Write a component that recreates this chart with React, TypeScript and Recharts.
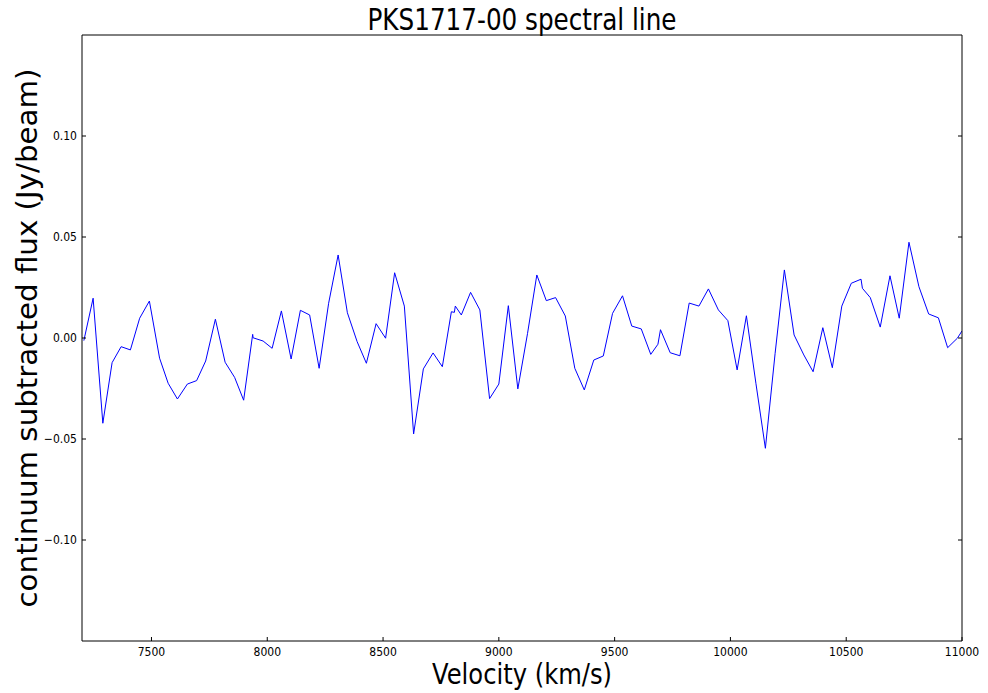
import { Line, LineChart, XAxis, YAxis } from 'recharts';

// Velocity (km/s) of each channel
const velocity = [
  7208, 7248, 7290, 7330, 7369, 7409, 7449, 7491, 7535, 7572,
  7612, 7655, 7695, 7734, 7776, 7818, 7859, 7898, 7937, 7939,
  7982, 8021, 8061, 8103, 8143, 8183, 8224, 8265, 8306, 8346,
  8388, 8428, 8470, 8511, 8550, 8592, 8632, 8674, 8716, 8756,
  8795, 8808, 8812, 8838, 8878, 8918, 8960, 9000, 9041, 9082,
  9124, 9164, 9205, 9245, 9287, 9328, 9369, 9410, 9451, 9491,
  9534, 9574, 9615, 9656, 9687, 9698, 9740, 9782, 9822, 9864,
  9905, 9948, 9989, 10029, 10069, 10110, 10151, 10193, 10233, 10275,
  10317, 10357, 10399, 10440, 10481, 10522, 10564, 10570, 10604, 10647,
  10689, 10729, 10771, 10814, 10856, 10898, 10938, 10980, 11000,
];

// continuum subtracted flux (Jy/beam)
const flux = [
  -0.0013, 0.0197, -0.0422, -0.0122, -0.0043, -0.0059, 0.0098, 0.0183, -0.01, -0.0224,
  -0.0302, -0.0228, -0.0211, -0.0114, 0.0093, -0.012, -0.0195, -0.0308, 0.0018, 0.0001,
  -0.0015, -0.0051, 0.0134, -0.0104, 0.0137, 0.0114, -0.015, 0.0172, 0.0411, 0.0125,
  -0.0018, -0.0125, 0.0071, -0.0001, 0.0323, 0.0158, -0.0475, -0.0153, -0.0074, -0.0142,
  0.013, 0.0127, 0.0158, 0.0114, 0.0226, 0.0139, -0.03, -0.0228, 0.016, -0.0252,
  0.0023, 0.0312, 0.0185, 0.02, 0.0109, -0.015, -0.0257, -0.0109, -0.0089, 0.0122,
  0.0209, 0.0059, 0.0045, -0.0081, -0.0031, 0.0041, -0.0073, -0.0088, 0.0173, 0.0158,
  0.0243, 0.0139, 0.0086, -0.0158, 0.011, -0.0224, -0.0546, -0.0076, 0.0337, 0.0015,
  -0.0084, -0.0167, 0.0051, -0.0147, 0.0158, 0.0271, 0.0291, 0.0246, 0.02, 0.0054,
  0.0308, 0.0098, 0.0474, 0.0254, 0.0119, 0.01, -0.0048, -0.0001, 0.0035,
];

const xTicks = [7500, 8000, 8500, 9000, 9500, 10000, 10500, 11000];
const yTicks = [-0.1, -0.05, 0, 0.05, 0.1];

const data = velocity.map((v, i) => ({ v, flux: flux[i] }));

const FONT = '"DejaVu Sans", sans-serif';
const W = 988;
const H = 693;

const fmtY = (n: number) => (n < 0 ? '\u2212' : '') + Math.abs(n).toFixed(2);

const XTick = ({ x, y, payload }: any) => (
  <g transform={`translate(${x},${y})`}>
    <text
      transform="scale(0.88,1)"
      textAnchor="middle"
      dy="0.71em"
      fontFamily={FONT}
      fontSize={12.3}
      fill="#000"
    >
      {payload.value}
    </text>
  </g>
);

const YTick = ({ x, y, payload }: any) => (
  <g transform={`translate(${x},${y})`}>
    <text
      transform="scale(0.88,1)"
      textAnchor="end"
      dy="0.355em"
      fontFamily={FONT}
      fontSize={12.3}
      fill="#000"
    >
      {fmtY(payload.value)}
    </text>
  </g>
);

const axisLine = { stroke: '#000', strokeWidth: 1 };
const tickLine = { stroke: '#000', strokeWidth: 1 };

export default function App() {
  return (
    <div style={{ position: 'absolute', left: 0, top: 0, width: W, height: H, background: '#fff' }}>
      <LineChart
        width={W}
        height={H}
        data={data}
        margin={{ top: 34, right: 25, left: 0, bottom: 0 }}
      >
        <XAxis
          dataKey="v"
          type="number"
          domain={[7200, 11000]}
          ticks={xTicks}
          allowDataOverflow
          height={52}
          axisLine={axisLine}
          tickLine={tickLine}
          tickSize={-4}
          tickMargin={10}
          tick={<XTick />}
        />
        <XAxis
          xAxisId="top"
          orientation="top"
          type="number"
          domain={[7200, 11000]}
          ticks={xTicks}
          allowDataOverflow
          height={1}
          axisLine={axisLine}
          tickLine={tickLine}
          tickSize={-4}
          tick={() => <g />}
        />
        <YAxis
          type="number"
          domain={[-0.15, 0.15]}
          ticks={yTicks}
          allowDataOverflow
          width={82}
          axisLine={axisLine}
          tickLine={tickLine}
          tickSize={-4}
          tickMargin={9}
          tick={<YTick />}
        />
        <YAxis
          yAxisId="right"
          orientation="right"
          type="number"
          domain={[-0.15, 0.15]}
          ticks={yTicks}
          allowDataOverflow
          width={1}
          axisLine={axisLine}
          tickLine={tickLine}
          tickSize={-4}
          tick={() => <g />}
        />
        <Line
          dataKey="flux"
          type="linear"
          stroke="#0000ff"
          strokeWidth={1}
          dot={false}
          activeDot={false}
          isAnimationActive={false}
        />
      </LineChart>
      <svg
        width={W}
        height={H}
        style={{ position: 'absolute', left: 0, top: 0, pointerEvents: 'none' }}
      >
        <text
          x={522}
          y={30}
          textAnchor="middle"
          fontFamily={FONT}
          fontSize={31}
          textLength={309}
          lengthAdjust="spacingAndGlyphs"
          fill="#000"
        >
          PKS1717-00 spectral line
        </text>
        <text
          x={522}
          y={684}
          textAnchor="middle"
          fontFamily={FONT}
          fontSize={28}
          textLength={180}
          lengthAdjust="spacingAndGlyphs"
          fill="#000"
        >
          Velocity (km/s)
        </text>
        <text
          transform="translate(37,338) rotate(-90)"
          textAnchor="middle"
          fontFamily={FONT}
          fontSize={29}
          textLength={539}
          lengthAdjust="spacingAndGlyphs"
          fill="#000"
        >
          continuum subtracted flux (Jy/beam)
        </text>
      </svg>
    </div>
  );
}
